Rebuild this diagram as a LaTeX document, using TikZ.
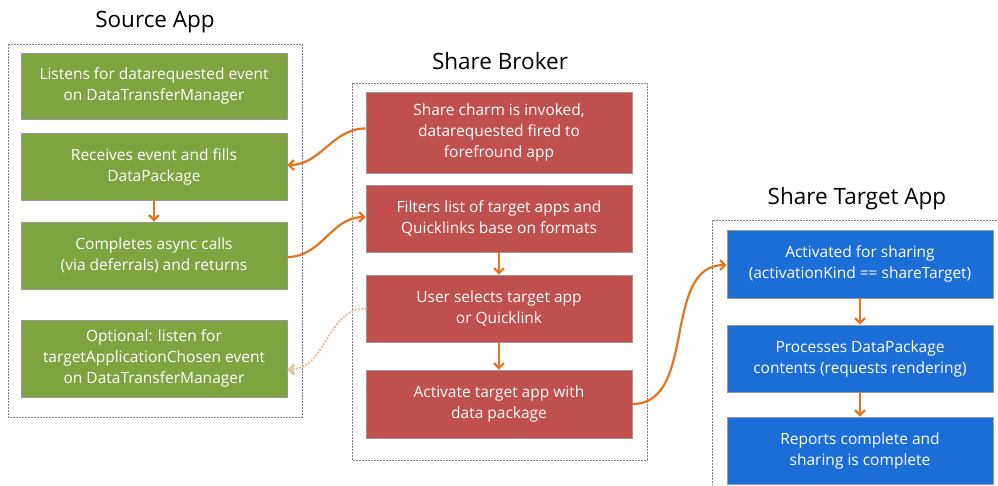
\documentclass[tikz,border=0pt]{standalone}
\usepackage{fontspec}
\setmainfont{Open Sans}
\usetikzlibrary{arrows.meta}
\definecolor{sharegreen}{RGB}{126,164,64}
\definecolor{sharered}{RGB}{192,80,77}
\definecolor{shareblue}{RGB}{28,110,214}
\definecolor{shareorange}{RGB}{228,116,32}
\definecolor{sharepeach}{RGB}{232,190,158}
\begin{document}
\begin{tikzpicture}[x=1pt,y=-1pt,
    font=\fontsize{15.5}{21}\selectfont,
    step box/.style={draw=black!40,line width=.8pt,text=white,align=center,
      minimum width=266pt,inner sep=2pt},
    source box/.style={step box,fill=sharegreen},
    broker box/.style={step box,fill=sharered},
    target box/.style={step box,fill=shareblue},
    frame/.style={gray,line width=.8pt,dash pattern=on 2pt off 1pt},
    title/.style={font=\fontsize{22.5}{26}\selectfont},
    flow/.style={shareorange,line width=2.2pt,-{Straight Barb[length=5pt,width=10pt]}},
    optflow/.style={sharepeach,line width=2.8pt,line cap=round,dash pattern=on 0pt off 3.4pt,
      -{Straight Barb[length=5pt,width=10pt]}}]
    \useasboundingbox (0,0) rectangle (998,485);
    % frames
    \draw[frame] (8,44) rectangle (302,417);
    \draw[frame] (352,83) rectangle (647,460);
    \draw[frame] (997,220) -| (712,485);
    \node[title] (srctitle) at (155,22) {Source App};
    \node[title] (brktitle) at (500,61) {Share Broker};
    \node[title] (tgttitle) at (857,199) {Share Target App};
    % source app
    \node[source box,minimum height=66pt] (g1) at (154,86)
      {Listens for datarequested event\\on DataTransferManager};
    \node[source box,minimum height=67pt] (g2) at (154,166.5)
      {Receives event and fills\\DataPackage};
    \node[source box,minimum height=67pt] (g3) at (154,255.5)
      {Completes async calls\\(via deferrals) and returns};
    \node[source box,minimum height=77pt] (g4) at (154,358.5)
      {Optional: listen for\\targetApplicationChosen event\\on DataTransferManager};
    % share broker
    \node[broker box,minimum height=81pt] (r1) at (499,132.5)
      {Share charm is invoked,\\datarequested fired to\\forefround app};
    \node[broker box,minimum height=67pt] (r2) at (499,218.5)
      {Filters list of target apps and\\Quicklinks base on formats};
    \node[broker box,minimum height=67pt] (r3) at (499,308.5)
      {User selects target app\\or Quicklink};
    \node[broker box,minimum height=68pt] (r4) at (499,404)
      {Activate target app with\\data package};
    % share target app
    \node[target box,minimum height=68pt] (b1) at (860,264)
      {Activated for sharing\\(activationKind == shareTarget)};
    \node[target box,minimum height=67pt] (b2) at (860,358.5)
      {Processes DataPackage\\contents (requests rendering)};
    \node[target box,minimum height=67pt] (b3) at (860,450.5)
      {Reports complete and\\sharing is complete};
    % connectors
    \foreach \a/\b in {g2/g3,r2/r3,r3/r4,b1/b2,b2/b3}
      \draw[flow] (\a.south) -- (\b.north);
    \draw[flow] ([yshift=4pt]r1.west) to[out=180,in=0] ([yshift=1.5pt]g2.east);
    \draw[flow] ([yshift=-1.5pt]g3.east) to[out=0,in=180] ([yshift=1.5pt]r2.west);
    \draw[optflow] (r3.west) to[out=180,in=0] ([yshift=-11pt]g4.east);
    \draw[flow] (r4.east) to[out=0,in=180] ([yshift=-1pt]b1.west);
\end{tikzpicture}
\end{document}
